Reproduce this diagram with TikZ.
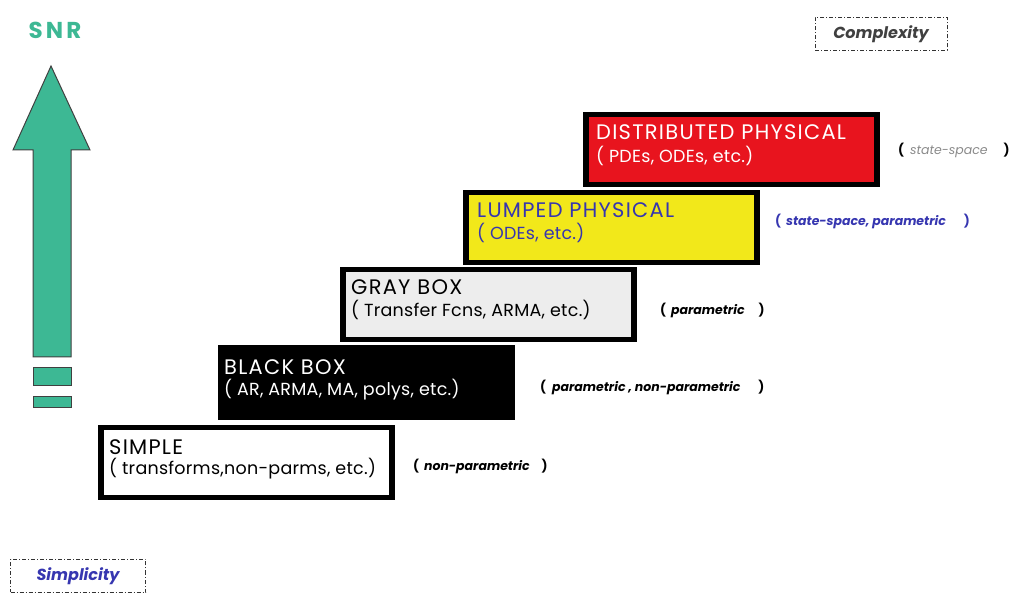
\documentclass[tikz,border=0pt]{standalone}
\usepackage{fontspec}
\setmainfont{Poppins}
\newfontfamily\boxfont[LetterSpace=6]{Poppins}
\newfontfamily\subfont[LetterSpace=1.5]{Poppins}
\newfontfamily\snrfont[LetterSpace=14]{Poppins}
\usetikzlibrary{positioning}
\definecolor{teal1}{HTML}{3DB894}
\definecolor{redbox}{HTML}{E8141E}
\definecolor{yelbox}{HTML}{F2E81A}
\definecolor{graybox}{HTML}{EDEDED}
\definecolor{bluetxt}{HTML}{3636B0}
\definecolor{graytxt}{HTML}{8A8A8A}
\begin{document}
\begin{tikzpicture}[x=1pt,y=-1pt,
  level/.style={draw=black, line width=5.5pt, rectangle, minimum width=291pt, minimum height=70pt, anchor=north west, inner sep=0pt},
  ttl/.style={anchor=west, inner sep=0pt, font=\boxfont\fontsize{21}{24}\selectfont},
  sub/.style={anchor=west, inner sep=0pt, font=\subfont\fontsize{17.5}{20}\selectfont},
  note/.style={anchor=west, inner sep=0pt, font=\fontsize{12.5}{14}\selectfont\bfseries},
  dbox/.style={draw=black!80, dash pattern=on 4pt off 2pt on 1pt off 2pt, line width=0.8pt, minimum width=132pt, minimum height=33pt, inner sep=0pt, font=\fontsize{16}{18}\selectfont\bfseries\itshape}
]
\useasboundingbox (0,0) rectangle (1013,593);
% arrow
\fill[teal1, draw=black!75, line width=1pt] (33,357) -- (33,150) -- (13,150) -- (51,66) -- (90,150) -- (71,150) -- (71,357) -- cycle;
\fill[teal1, draw=black!75, line width=1pt] (33,368) rectangle (71,386);
\fill[teal1, draw=black!75, line width=1pt] (33,397) rectangle (71,408);
\node[inner sep=0pt, text=teal1, font=\snrfont\fontsize{23}{26}\selectfont\bfseries] (snr) at (55,30) {SNR};
% dashed boxes
\node[dbox, text=black!75] (cplx) at (881,34) {Complexity};
\node[dbox, text=bluetxt, minimum width=135pt] (simp) at (78,576) {Simplicity};
% level boxes
\node[level, fill=white] (simple) at (98,425) {};
\node[level, fill=black] (black) at (218,345) {};
\node[level, fill=graybox] (gray) at (340,267) {};
\node[level, fill=yelbox] (lumped) at (463,190) {};
\node[level, fill=redbox] (dist) at (583,112) {};
% box texts
\node[ttl] (t1a) at (109,447) {SIMPLE};
\node[sub] (t1b) at (109,469) {( transforms,non-parms, etc.)};
\node[ttl, text=white] (t2a) at (224,367) {BLACK BOX};
\node[sub, text=white] (t2b) at (224,390) {( AR, ARMA, MA, polys, etc.)};
\node[ttl] (t3a) at (351,287) {GRAY BOX};
\node[sub] (t3b) at (351,310) {( Transfer Fcns, ARMA, etc.)};
\node[ttl, text=bluetxt] (t4a) at (477,210) {LUMPED PHYSICAL};
\node[sub, text=bluetxt] (t4b) at (477,233) {( ODEs, etc.)};
\node[ttl, text=white] (t5a) at (596,132) {DISTRIBUTED PHYSICAL};
\node[sub, text=white] (t5b) at (596,156) {( PDEs, ODEs, etc.)};
% notes
\node[note] (n1) at (413,466) {(\hspace{5pt}\textit{non-parametric}\hspace{12pt})};
\node[note] (n2) at (540,387) {(\hspace{6pt}\textit{parametric , non-parametric}\hspace{18pt})};
\node[note] (n3) at (660,310) {(\hspace{5pt}\textit{parametric}\hspace{14pt})};
\node[note, text=bluetxt] (n4) at (775,221) {(\hspace{5pt}\textit{state-space, parametric}\hspace{18pt})};
\node[note] (n5) at (898,150) {(\hspace{6pt}\textcolor{graytxt}{\mdseries\textit{state-space}}\hspace{16pt})};
\end{tikzpicture}
\end{document}
